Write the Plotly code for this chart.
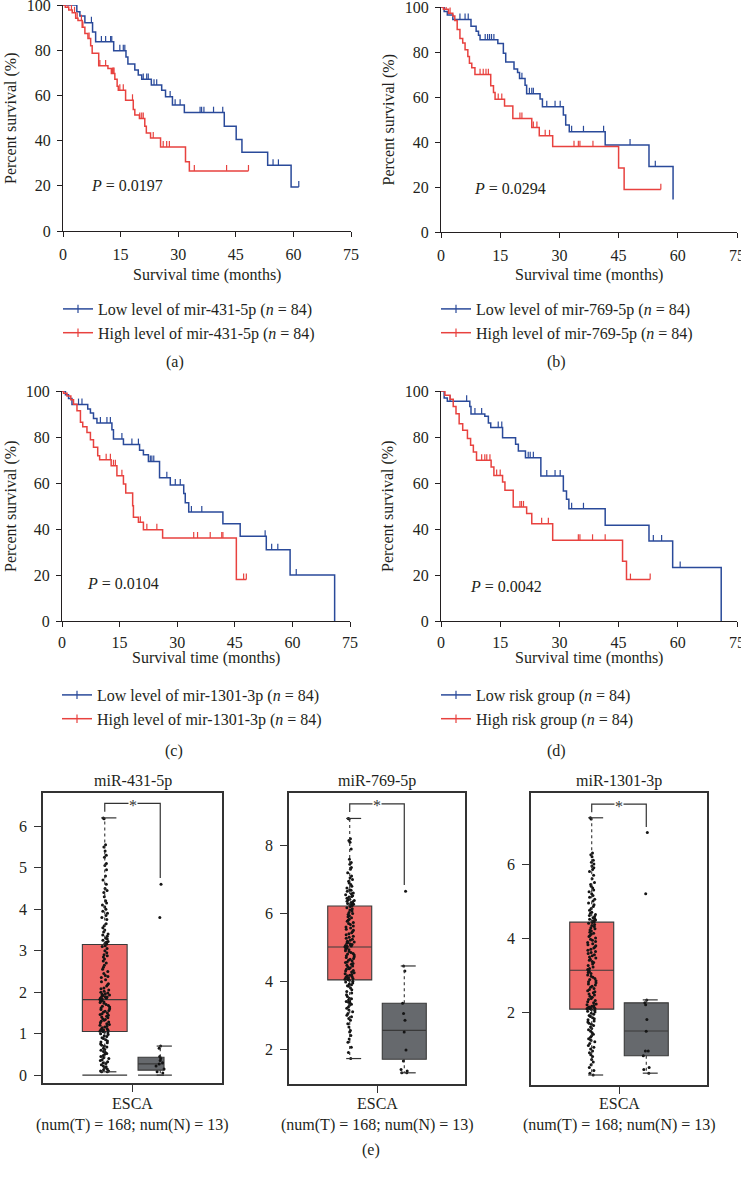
import plotly.graph_objects as go

W, H = 741, 1180
FONT = "Liberation Serif"
TXT = "#231F20"
BLUE = "#2A4A9A"
RED = "#E8423F"
BOXRED = "#EF6A68"
BOXGRAY = "#66696D"

# ---------------- Kaplan-Meier data (event times, survival after event, censor times) ----------------
a_low_t = [3.6, 4.4, 5.7, 7.7, 8.5, 13.2, 16.4, 16.9, 18.7, 19.6, 20.5, 23.0, 25.7, 26.7, 28.5, 31.6, 42.0, 45.1, 46.6, 53.3, 59.4]
a_low_s = [97.0, 95.1, 92.2, 88.0, 83.7, 79.8, 77.0, 73.9, 71.2, 69.0, 67.1, 64.6, 62.3, 59.4, 55.7, 52.4, 46.4, 40.5, 34.9, 29.1, 19.5]
a_low_c = [0.9, 2.2, 2.8, 3.3, 7.4, 10.0, 11.1, 12.4, 12.7, 14.8, 15.7, 16.1, 20.9, 21.8, 22.2, 23.7, 24.4, 27.9, 29.2, 30.5, 35.7, 36.1, 36.7, 39.2, 41.6, 54.7, 56.1, 61.4]
a_high_t = [0.6, 1.5, 2.4, 3.3, 3.9, 5.0, 5.7, 6.5, 7.2, 7.6, 9.3, 11.7, 12.6, 13.5, 14.1, 14.4, 16.3, 18.3, 18.7, 19.9, 21.3, 21.7, 22.8, 25.4, 31.9, 32.9]
a_high_s = [99.0, 97.8, 96.6, 94.1, 93.1, 90.1, 87.4, 85.2, 82.0, 78.6, 73.1, 71.9, 69.7, 67.2, 64.1, 62.3, 57.9, 53.8, 51.3, 49.8, 46.4, 43.4, 41.2, 37.2, 30.6, 26.6]
a_high_c = [1.3, 2.2, 3.0, 3.7, 4.8, 5.2, 6.8, 9.6, 11.1, 12.9, 13.1, 13.3, 14.8, 15.7, 18.1, 20.0, 20.5, 20.9, 23.5, 26.1, 27.0, 27.7, 34.2, 42.6, 48.3]

b_low_t = [0.8, 1.6, 3.0, 7.6, 8.9, 9.5, 9.9, 14.4, 15.8, 16.4, 18.5, 19.4, 19.9, 21.3, 21.7, 25.1, 25.7, 31.0, 31.6, 32.5, 41.6, 52.7, 58.8]
b_low_s = [98.0, 96.5, 94.5, 91.5, 89.2, 87.4, 85.4, 83.8, 79.5, 75.6, 72.5, 70.9, 68.2, 65.2, 61.5, 59.1, 55.7, 52.0, 47.6, 44.6, 38.7, 29.1, 14.5]
b_low_c = [4.8, 6.1, 6.9, 11.2, 11.8, 12.3, 12.8, 13.4, 20.5, 22.4, 23.0, 23.4, 26.8, 28.9, 30.2, 33.1, 36.1, 41.2, 47.9, 54.3]
b_high_t = [0.6, 1.9, 3.0, 3.5, 4.1, 4.8, 5.5, 6.1, 6.8, 7.2, 7.8, 8.6, 12.6, 13.3, 13.7, 16.1, 18.2, 23.0, 24.9, 28.3, 45.0, 46.4]
b_high_s = [99.0, 97.2, 96.0, 94.0, 90.0, 86.0, 84.0, 81.0, 78.0, 75.0, 73.0, 70.0, 65.0, 62.0, 59.0, 56.0, 50.5, 46.5, 42.8, 38.0, 28.4, 18.9]
b_high_c = [1.3, 2.3, 9.9, 10.7, 11.4, 12.0, 14.5, 15.4, 20.0, 20.5, 23.4, 24.3, 26.4, 27.5, 33.7, 34.8, 35.2, 38.5, 55.7]

c_low_t = [0.9, 1.7, 2.6, 6.7, 7.4, 8.2, 9.1, 13.0, 13.4, 16.0, 20.2, 21.2, 22.5, 25.4, 28.2, 31.7, 32.1, 33.0, 41.9, 46.4, 53.2, 59.4, 71.0]
c_low_s = [98.4, 96.7, 94.1, 92.2, 90.4, 88.0, 86.1, 83.2, 79.1, 76.7, 74.2, 72.3, 69.4, 62.3, 59.1, 55.4, 51.4, 47.4, 42.3, 36.9, 31.0, 20.0, 0.0]
c_low_c = [4.3, 5.2, 10.0, 11.7, 12.6, 15.6, 18.2, 19.9, 23.0, 23.4, 23.9, 27.3, 29.5, 30.8, 33.7, 36.4, 52.9, 54.6, 56.2, 61.0]
c_high_t = [0.4, 1.3, 2.3, 3.0, 3.9, 4.8, 5.4, 6.5, 7.4, 8.2, 9.3, 9.8, 12.8, 14.3, 16.0, 16.6, 18.4, 18.6, 19.9, 21.2, 26.2, 45.4]
c_high_s = [99.0, 97.8, 96.2, 94.2, 91.4, 86.4, 84.5, 82.0, 78.8, 75.5, 71.9, 70.1, 67.5, 63.2, 59.6, 55.7, 50.1, 45.1, 42.9, 39.7, 36.1, 18.0]
c_high_c = [11.5, 12.6, 13.4, 13.9, 15.6, 20.4, 22.1, 24.7, 34.3, 35.3, 38.6, 41.6, 41.9, 47.3, 48.0]

d_low_t = [0.8, 1.6, 7.3, 7.6, 11.1, 12.0, 12.6, 15.6, 18.9, 19.6, 21.4, 25.3, 31.0, 31.8, 32.4, 41.6, 52.7, 58.7, 71.0]
d_low_s = [97.0, 95.5, 93.3, 90.0, 89.0, 86.1, 84.1, 79.7, 76.8, 73.9, 71.0, 63.0, 56.5, 52.9, 48.8, 41.6, 34.8, 23.3, 0.0]
d_low_c = [2.3, 6.5, 8.6, 10.3, 14.5, 15.4, 22.1, 22.6, 23.4, 26.8, 28.9, 30.2, 33.1, 36.1, 53.8, 55.9, 60.6]
d_high_t = [1.0, 2.3, 3.1, 3.8, 4.6, 5.5, 6.7, 7.5, 8.2, 9.0, 12.7, 13.4, 15.6, 16.2, 18.3, 21.7, 23.0, 28.3, 46.0, 47.0]
d_high_s = [98.2, 96.4, 93.3, 90.1, 85.8, 82.9, 79.3, 76.4, 73.5, 69.9, 67.0, 63.3, 60.4, 56.8, 49.6, 46.7, 42.3, 35.1, 26.0, 18.0]
d_high_c = [10.3, 11.1, 11.6, 12.4, 14.1, 15.0, 20.0, 20.4, 20.9, 25.5, 27.2, 34.8, 35.2, 38.4, 41.6, 48.0, 53.0]

km_labels_low = ["Low level of mir-431-5p", "Low level of mir-769-5p", "Low level of mir-1301-3p", "Low risk group"]
km_labels_high = ["High level of mir-431-5p", "High level of mir-769-5p", "High level of mir-1301-3p", "High risk group"]
group_n = [84, 84, 84, 84]
p_values = ["0.0197", "0.0294", "0.0104", "0.0042"]
p_pos_t = [6.8, 7.8, 6.0, 6.8]
p_pos_s = [20, 19.5, 16.5, 15.0]
km_xticks = [0, 15, 30, 45, 60, 75]
km_yticks = [0, 20, 40, 60, 80, 100]

# ---------------- Box plot data ----------------
box_titles = ["miR-431-5p", "miR-769-5p", "miR-1301-3p"]
box_category = "ESCA"
box_subtitle = "(num(T) = 168; num(N) = 13)"
# tumour / normal: [lowerfence, q1, median, q3, upperfence]
t_stats = [[0.08, 1.05, 1.82, 3.15, 6.2], [1.72, 4.04, 5.01, 6.22, 8.8], [0.3, 2.08, 3.13, 4.43, 7.25]]
n_stats = [[0.0, 0.12, 0.27, 0.43, 0.7], [1.3, 1.7, 2.55, 3.35, 4.45], [0.35, 0.82, 1.49, 2.25, 2.33]]
floor_lines = [0.0, None, None]   # baseline drawn under the boxes (miR-431-5p only)
t431 = [6.2, 6.18, 5.55, 5.5, 5.4, 5.3, 5.25, 5.1, 5.05, 4.95, 4.8, 4.7, 4.6, 4.5, 4.45, 4.4, 4.3, 4.2, 4.15, 4.1,
        4.05, 4.0, 3.95, 3.9, 3.85, 3.8, 3.75, 3.65, 3.6, 3.55, 3.5, 3.45, 3.4, 3.38, 3.35, 3.3, 3.28, 3.25, 3.22, 3.2,
        3.18, 3.16, 3.12, 3.1, 3.05, 3.0, 2.95, 2.9, 2.88, 2.85, 2.8, 2.75, 2.7, 2.65, 2.6, 2.55, 2.5, 2.45, 2.4, 2.38,
        2.35, 2.3, 2.25, 2.2, 2.18, 2.15, 2.1, 2.08, 2.05, 2.02, 2.0, 1.98, 1.96, 1.95, 1.93, 1.92, 1.9, 1.89, 1.88, 1.87,
        1.86, 1.85, 1.84, 1.83, 1.81, 1.8, 1.78, 1.76, 1.75, 1.73, 1.7, 1.68, 1.66, 1.64, 1.62, 1.6, 1.58, 1.56, 1.54, 1.52,
        1.5, 1.48, 1.46, 1.44, 1.42, 1.4, 1.38, 1.36, 1.34, 1.32, 1.3, 1.28, 1.26, 1.24, 1.22, 1.2, 1.18, 1.16, 1.14, 1.12,
        1.1, 1.09, 1.08, 1.07, 1.06, 1.05, 1.04, 1.02, 1.0, 0.98, 0.95, 0.93, 0.9, 0.88, 0.85, 0.82, 0.8, 0.78, 0.75, 0.72,
        0.7, 0.68, 0.65, 0.62, 0.6, 0.57, 0.55, 0.52, 0.5, 0.47, 0.45, 0.42, 0.4, 0.37, 0.35, 0.32, 0.3, 0.28, 0.25, 0.22,
        0.2, 0.18, 0.15, 0.13, 0.1, 0.1, 0.08, 0.08]
t769 = [8.8, 8.78, 8.2, 8.15, 8.1, 7.9, 7.6, 7.5, 7.45, 7.35, 7.3, 7.2, 7.1, 7.05, 7.0, 6.95, 6.9, 6.85, 6.8, 6.75,
        6.7, 6.68, 6.65, 6.6, 6.58, 6.55, 6.52, 6.5, 6.48, 6.45, 6.42, 6.4, 6.38, 6.36, 6.34, 6.32, 6.3, 6.29, 6.27, 6.26,
        6.24, 6.23, 6.2, 6.17, 6.14, 6.1, 6.07, 6.03, 6.0, 5.97, 5.93, 5.9, 5.87, 5.83, 5.8, 5.77, 5.73, 5.7, 5.67, 5.63,
        5.6, 5.57, 5.53, 5.5, 5.47, 5.43, 5.4, 5.37, 5.33, 5.3, 5.27, 5.24, 5.21, 5.18, 5.16, 5.14, 5.12, 5.1, 5.08, 5.06,
        5.05, 5.04, 5.03, 5.02, 5.0, 4.98, 4.95, 4.93, 4.9, 4.88, 4.85, 4.82, 4.8, 4.77, 4.75, 4.72, 4.7, 4.67, 4.65, 4.62,
        4.6, 4.57, 4.55, 4.52, 4.5, 4.47, 4.45, 4.42, 4.4, 4.37, 4.35, 4.32, 4.3, 4.27, 4.25, 4.22, 4.2, 4.18, 4.16, 4.14,
        4.12, 4.1, 4.08, 4.07, 4.06, 4.05, 4.03, 4.0, 3.98, 3.95, 3.92, 3.9, 3.87, 3.85, 3.8, 3.75, 3.7, 3.65, 3.6, 3.55,
        3.5, 3.48, 3.45, 3.42, 3.4, 3.38, 3.35, 3.32, 3.3, 3.25, 3.2, 3.15, 3.1, 3.05, 3.0, 2.95, 2.9, 2.85, 2.75, 2.65,
        2.55, 2.5, 2.4, 2.3, 2.2, 2.05, 1.9, 1.72]
t1301 = [7.25, 7.22, 6.3, 6.25, 6.2, 6.1, 6.05, 6.0, 5.95, 5.9, 5.85, 5.8, 5.7, 5.6, 5.5, 5.45, 5.4, 5.35, 5.3, 5.25,
         5.2, 5.15, 5.1, 5.05, 5.0, 4.95, 4.9, 4.85, 4.8, 4.75, 4.7, 4.67, 4.64, 4.61, 4.58, 4.55, 4.53, 4.51, 4.49, 4.47,
         4.45, 4.44, 4.42, 4.4, 4.37, 4.34, 4.31, 4.28, 4.25, 4.22, 4.19, 4.16, 4.13, 4.1, 4.07, 4.04, 4.0, 3.97, 3.94, 3.91,
         3.88, 3.85, 3.82, 3.79, 3.76, 3.73, 3.7, 3.67, 3.64, 3.61, 3.58, 3.55, 3.52, 3.49, 3.46, 3.43, 3.4, 3.37, 3.34, 3.3,
         3.26, 3.22, 3.18, 3.15, 3.12, 3.1, 3.07, 3.04, 3.0, 2.97, 2.94, 2.91, 2.88, 2.85, 2.82, 2.79, 2.76, 2.73, 2.7, 2.67,
         2.64, 2.61, 2.58, 2.55, 2.52, 2.49, 2.46, 2.43, 2.4, 2.37, 2.34, 2.31, 2.28, 2.25, 2.22, 2.2, 2.18, 2.16, 2.14, 2.13,
         2.12, 2.11, 2.1, 2.1, 2.09, 2.09, 2.07, 2.05, 2.02, 2.0, 1.97, 1.94, 1.91, 1.88, 1.85, 1.82, 1.79, 1.76, 1.73, 1.7,
         1.67, 1.64, 1.6, 1.56, 1.52, 1.48, 1.44, 1.4, 1.36, 1.32, 1.28, 1.24, 1.2, 1.15, 1.1, 1.05, 1.0, 0.95, 0.9, 0.85,
         0.8, 0.72, 0.65, 0.58, 0.5, 0.42, 0.35, 0.3]
n431 = [4.6, 3.8, 0.7, 0.65, 0.45, 0.4, 0.35, 0.3, 0.27, 0.22, 0.15, 0.08, 0.05]
n769 = [6.65, 4.45, 4.3, 3.35, 3.05, 2.85, 2.5, 1.97, 1.65, 1.4, 1.35, 1.3, 1.3]
n1301 = [6.85, 5.2, 2.33, 2.25, 2.2, 1.8, 1.48, 0.95, 0.95, 0.82, 0.5, 0.45, 0.35]
# significance bracket: [left leg bottom, bracket top, right leg bottom]
brackets = [[6.35, 6.55, 4.75], [8.99, 9.23, 6.84], [7.40, 7.62, 7.00]]
box_yranges = [[-0.19, 6.8], [0.97, 9.55], [0.03, 7.92]]
box_yticks = [[0, 1, 2, 3, 4, 5, 6], [2, 4, 6, 8], [2, 4, 6]]

# ---------------- layout geometry (pixels) ----------------
def px(x):
    return x / W

def py(y):
    return 1 - y / H

km_dom = [((63, 351), (5, 231)), ((441, 737), (7, 232)), ((62, 350), (391, 621)), ((441, 737), (391, 621))]
box_dom = [((43, 222), (793, 1083)), ((289, 465), (793, 1084)), ((531, 707), (793, 1085))]
T_POS, N_POS, BOX_W = -0.31, 0.31, 0.5
N_BOX_W = [0.29, 0.5, 0.5]
N_BOX_C = [0.207, 0.31, 0.31]
CAP_L, CAP_R = -0.04, 0.13
TICK_H = 2.6

km_sets = [
    (a_low_t, a_low_s, a_low_c, a_high_t, a_high_s, a_high_c),
    (b_low_t, b_low_s, b_low_c, b_high_t, b_high_s, b_high_c),
    (c_low_t, c_low_s, c_low_c, c_high_t, c_high_s, c_high_c),
    (d_low_t, d_low_s, d_low_c, d_high_t, d_high_s, d_high_c),
]


def step_xy(ts, ss, cens):
    x, y = [0], [100]
    for t, s in zip(ts, ss):
        x.append(t)
        y.append(s)
    end = max(cens) if cens else ts[-1]
    if end > ts[-1]:
        x.append(end)
        y.append(ss[-1])
    return x, y


def surv_at(ts, ss, t):
    s = 100
    for ti, si in zip(ts, ss):
        if ti <= t:
            s = si
    return s


def cens_xy(ts, ss, cens):
    x, y = [], []
    for c in cens:
        s = surv_at(ts, ss, c)
        x += [c, c, None]
        y += [s, s + TICK_H, None]
    return x, y


def note(text, x, y, **kw):
    d = dict(text=text, xref="paper", yref="paper", x=px(x), y=py(y), showarrow=False,
             xanchor="center", yanchor="middle", font=dict(family=FONT, size=16, color=TXT))
    d.update(kw)
    return d


fig = go.Figure()
axfont = dict(family=FONT, size=16, color=TXT)
layout_axes = {}
annotations = []

for i, (lt, ls, lc, ht, hs, hc) in enumerate(km_sets):
    k = i + 1
    xa = "x" if k == 1 else f"x{k}"
    ya = "y" if k == 1 else f"y{k}"
    leg = "legend" if k == 1 else f"legend{k}"
    (x0, x1), (y0, y1) = km_dom[i]
    for ts, ss, cs, col, lab in [(lt, ls, lc, BLUE, km_labels_low[i]), (ht, hs, hc, RED, km_labels_high[i])]:
        sx, sy = step_xy(ts, ss, cs)
        fig.add_trace(go.Scatter(x=sx, y=sy, mode="lines", line=dict(color=col, width=1.5, shape="hv"),
                                 xaxis=xa, yaxis=ya, showlegend=False, cliponaxis=False, hoverinfo="skip"))
        tx, ty = cens_xy(ts, ss, cs)
        fig.add_trace(go.Scatter(x=tx, y=ty, mode="lines", line=dict(color=col, width=1.2),
                                 xaxis=xa, yaxis=ya, showlegend=False, cliponaxis=False, hoverinfo="skip"))
        fig.add_trace(go.Scatter(x=[None], y=[None], mode="lines+markers",
                                 line=dict(color=col, width=1.5),
                                 marker=dict(symbol="line-ns-open", size=6, color=col, line=dict(color=col, width=1.2)),
                                 name=f"{lab} (<i>n</i> = {group_n[i]})", xaxis=xa, yaxis=ya,
                                 legend=leg, showlegend=True))
    layout_axes["xaxis" if k == 1 else f"xaxis{k}"] = dict(
        domain=[px(x0), px(x1)], anchor=ya, range=[0, 75], tickvals=km_xticks, ticks="outside", ticklen=5,
        tickwidth=1.3, tickcolor=TXT, showline=True, linecolor=TXT, linewidth=1.3, showgrid=False,
        zeroline=False, tickfont=axfont, ticklabelstandoff=(4 if i < 2 else 2), automargin=False,
        ticklabeloverflow="allow")
    layout_axes["yaxis" if k == 1 else f"yaxis{k}"] = dict(
        domain=[py(y1), py(y0)], anchor=xa, range=[0, 100], tickvals=km_yticks, ticks="outside", ticklen=5,
        tickwidth=1.3, tickcolor=TXT, showline=True, linecolor=TXT, linewidth=1.3, showgrid=False,
        zeroline=False, tickfont=axfont, ticklabelstandoff=3, automargin=False, ticklabeloverflow="allow")
    layout_axes[leg] = dict(x=px(x0 - 5), y=py(292 if i < 2 else 678), xanchor="left", yanchor="top",
                            font=dict(family=FONT, size=16, color=TXT), bgcolor="rgba(0,0,0,0)",
                            itemwidth=30, tracegroupgap=0, traceorder="normal")
    annotations.append(note("Percent survival (%)", 11 if i in (0, 2) else 388, (y0 + y1) / 2, textangle=-90))
    annotations.append(note("Survival time (months)", (x0 + x1) / 2, 275 if i < 2 else 658))
    annotations.append(dict(text=f"<i>P</i> = {p_values[i]}", xref=xa, yref=ya, x=p_pos_t[i], y=p_pos_s[i],
                            showarrow=False, xanchor="left", yanchor="middle",
                            font=dict(family=FONT, size=16, color=TXT)))
    annotations.append(note(f"({'abcd'[i]})", x0 + 112 if i % 2 == 0 else x0 + 115, 362 if i < 2 else 751))

t_points = [t431, t769, t1301]
n_points = [n431, n769, n1301]
for j in range(3):
    k = 5 + j
    xa, ya = f"x{k}", f"y{k}"
    (x0, x1), (y0, y1) = box_dom[j]
    for pos, wid, stats, pts, col in [(T_POS, BOX_W, t_stats[j], t_points[j], BOXRED),
                                      (N_BOX_C[j], N_BOX_W[j], n_stats[j], n_points[j], BOXGRAY)]:
        lo, q1, med, q3, hi = stats
        whisk_x = T_POS if pos == T_POS else N_POS
        if floor_lines[j] is not None:
            fig.add_trace(go.Scatter(x=[pos - wid / 2, pos + wid / 2], y=[floor_lines[j], floor_lines[j]],
                                     mode="lines", line=dict(color="#333333", width=1.2),
                                     xaxis=xa, yaxis=ya, showlegend=False, hoverinfo="skip"))
        fig.add_trace(go.Scatter(x=[whisk_x, whisk_x, None, whisk_x, whisk_x], y=[q3, hi, None, q1, lo],
                                 mode="lines", line=dict(color="#333333", width=1.1, dash="dot"),
                                 xaxis=xa, yaxis=ya, showlegend=False, hoverinfo="skip"))
        fig.add_trace(go.Scatter(x=[whisk_x + CAP_L, whisk_x + CAP_R, None, whisk_x + CAP_L, whisk_x + CAP_R],
                                 y=[hi, hi, None, lo, lo], mode="lines", line=dict(color="#333333", width=1.2),
                                 xaxis=xa, yaxis=ya, showlegend=False, hoverinfo="skip"))
        fig.add_trace(go.Box(x=[pos], q1=[q1], median=[med], q3=[q3], lowerfence=[q1], upperfence=[q3],
                             width=wid, fillcolor=col, line=dict(color="#3a3a3a", width=1.1),
                             boxpoints=False, xaxis=xa, yaxis=ya, showlegend=False, hoverinfo="skip"))
        fig.add_trace(go.Box(y=pts, x0=whisk_x, width=BOX_W, boxpoints="all", jitter=0.22, pointpos=0,
                             marker=dict(size=3, color="#151515"), line=dict(color="rgba(0,0,0,0)", width=0),
                             fillcolor="rgba(0,0,0,0)", xaxis=xa, yaxis=ya, showlegend=False, hoverinfo="skip"))
    lb, top, rb = brackets[j]
    fig.add_trace(go.Scatter(x=[T_POS, T_POS, N_POS, N_POS], y=[lb, top, top, rb], mode="lines",
                             line=dict(color="#333333", width=1.2), xaxis=xa, yaxis=ya,
                             showlegend=False, hoverinfo="skip"))
    annotations.append(dict(text="*", xref=xa, yref=ya, x=0, y=top, showarrow=False, bgcolor="white",
                            xanchor="center", yanchor="middle",
                            font=dict(family=FONT, size=16, color="#333333"), yshift=-2, borderpad=0))
    layout_axes[f"xaxis{k}"] = dict(domain=[px(x0), px(x1)], anchor=ya, range=[-1, 1], tickvals=[0],
                                    ticktext=[""], ticks="outside", ticklen=7, tickwidth=1.2, tickcolor="#333333",
                                    showline=True, mirror=True, linecolor="#333333", linewidth=1.5,
                                    showgrid=False, zeroline=False, automargin=False)
    layout_axes[f"yaxis{k}"] = dict(domain=[py(y1), py(y0)], anchor=xa, range=box_yranges[j],
                                    tickvals=box_yticks[j], ticks="outside", ticklen=7, tickwidth=1.2,
                                    tickcolor="#333333", showline=True, mirror=True, linecolor="#333333",
                                    linewidth=1.5, showgrid=False, zeroline=False, tickfont=axfont,
                                    ticklabelstandoff=4, automargin=False)
    cx = (x0 + x1) / 2
    annotations.append(note(box_titles[j], cx, 781))
    annotations.append(note(box_category, cx, 1103))
    annotations.append(note(box_subtitle, cx, 1125))

annotations.append(note("(e)", 371, 1150))

fig.update_layout(width=W, height=H, margin=dict(l=0, r=0, t=0, b=0, autoexpand=False), plot_bgcolor="white",
                  paper_bgcolor="white", font=dict(family=FONT, size=16, color=TXT), boxmode="overlay",
                  annotations=annotations, **layout_axes)
fig.write_html("out.html", config={"displayModeBar": False},
               post_script="document.body.style.margin='0px';")
